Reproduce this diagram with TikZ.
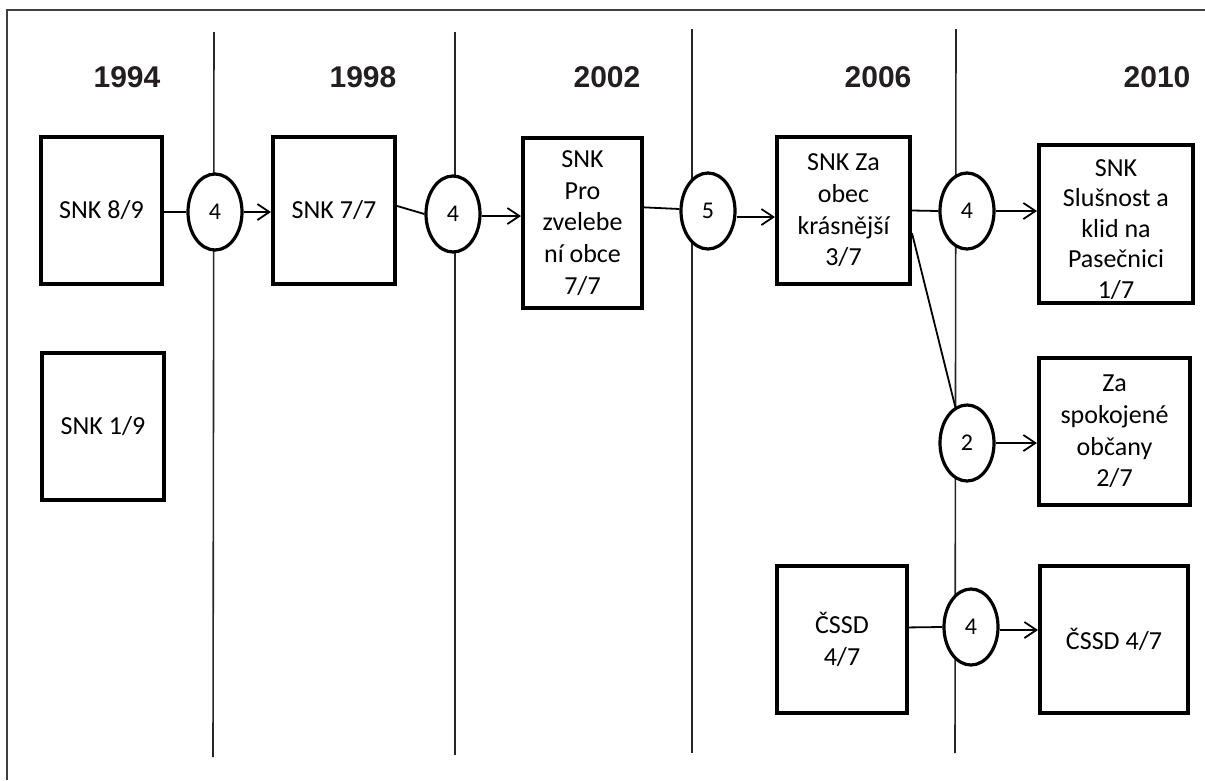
\documentclass[tikz,border=0pt]{standalone}
\usepackage{fontspec}
\setmainfont{Carlito}
\newfontfamily\yearfont{Liberation Sans}
\usetikzlibrary{shapes.geometric,arrows.meta,calc}
\definecolor{ink}{HTML}{231F20}
\begin{document}
\begin{tikzpicture}[x=1pt,y=-1pt,
  partybox/.style={draw=black, line width=4, fill=white, rectangle, inner sep=0,
     align=center, font=\fontsize{26}{31.7}\selectfont},
  seatoval/.style={draw=black, line width=3.2, fill=white, ellipse, inner sep=0,
     minimum width=54, minimum height=76, font=\fontsize{24}{28}\selectfont},
  yearlabel/.style={anchor=base, text=ink, font=\yearfont\bfseries\fontsize{30}{34}\selectfont},
  divider/.style={draw=black!85, line width=1.6},
  link/.style={draw=black, line width=1.8},
  flow/.style={link, -{Straight Barb[length=12pt,width=16pt,line width=1.8pt]}}]
\useasboundingbox (0,0) rectangle (1205,780);
% outer frame
\draw[black!75, line width=1.2] (7,780) -- (7,10) -- (1205,10);
% period dividers
\draw[divider] (214,32) -- (213,757);
\draw[divider] (455,32) -- (455,755);
\draw[divider] (692,29) -- (692,753);
\draw[divider] (956,29) -- (955,753);
% years
\node[yearlabel] (y94) at (127,87) {1994};
\node[yearlabel] (y98) at (363,87) {1998};
\node[yearlabel] (y02) at (607,87) {2002};
\node[yearlabel] (y06) at (878,87) {2006};
\node[yearlabel] (y10) at (1157,87) {2010};
% party boxes
\node[partybox, minimum width=121, minimum height=147] (b94a) at (101.5,210.5) {SNK 8/9};
\node[partybox, minimum width=122, minimum height=147] (b94b) at (103,426.5) {SNK 1/9};
\node[partybox, minimum width=122, minimum height=147] (b98) at (334,210.5) {SNK 7/7};
\node[partybox, minimum width=119, minimum height=170] (b02) at (582.5,223) {SNK\\Pro\\zvelebe\\ní obce\\7/7};
\node[partybox, minimum width=133, minimum height=147] (b06) at (843.5,210.5) {SNK Za\\obec\\krásnější\\3/7};
\node[partybox, minimum width=130, minimum height=147] (b06c) at (842,639.5) {ČSSD\\4/7};
\node[partybox, minimum width=154, minimum height=158] (b10a) at (1116,224) {};
\node[align=center, inner sep=0, font=\fontsize{26}{30.5}\selectfont] (t10a) at (1116,229.5) {SNK\\Slušnost a\\klid na\\Pasečnici\\1/7};
\node[partybox, minimum width=151, minimum height=147] (b10b) at (1114.5,431.5) {Za\\spokojené\\občany\\2/7};
\node[partybox, minimum width=148, minimum height=147] (b10c) at (1114,639.5) {ČSSD 4/7};
% seat ovals
\node[seatoval] (e1) at (215,212) {4};
\node[seatoval] (e2) at (453,214) {4};
\node[seatoval] (e3) at (708,211) {5};
\node[seatoval] (e4) at (967,211) {4};
\node[seatoval] (e5) at (967,443) {2};
\node[seatoval] (e6) at (971,627) {4};
% connectors
\draw[link] (b94a.east |- e1.west) -- (e1.west);
\draw[flow] (e1.east) -- (e1.east -| b98.west);
\draw[link] ($(b98.north east)!0.47!(b98.south east)$) -- (e2.west);
\draw[flow] ($(e2.east)+(0,2)$) -- ($(e2.east -| b02.west)+(0,2)$);
\draw[link] ($(b02.north east)!0.41!(b02.south east)$) -- ($(e3.west)+(0,-2)$);
\draw[flow] ($(e3.east)+(0,6)$) -- ($(e3.east -| b06.west)+(0,6)$);
\draw[link] (b06.east) -- (e4.west);
\draw[flow] (e4.east) -- (e4.east -| b10a.west);
\draw[link] ($(b06.north east)!0.65!(b06.south east)$) -- (e5.108);
\draw[flow] (e5.east) -- (e5.east -| b10b.west);
\draw[link] ($(b06c.north east)!0.42!(b06c.south east)$) -- (e6.west);
\draw[flow] ($(e6.east)+(0,3)$) -- ($(e6.east -| b10c.west)+(0,3)$);
\end{tikzpicture}
\end{document}
